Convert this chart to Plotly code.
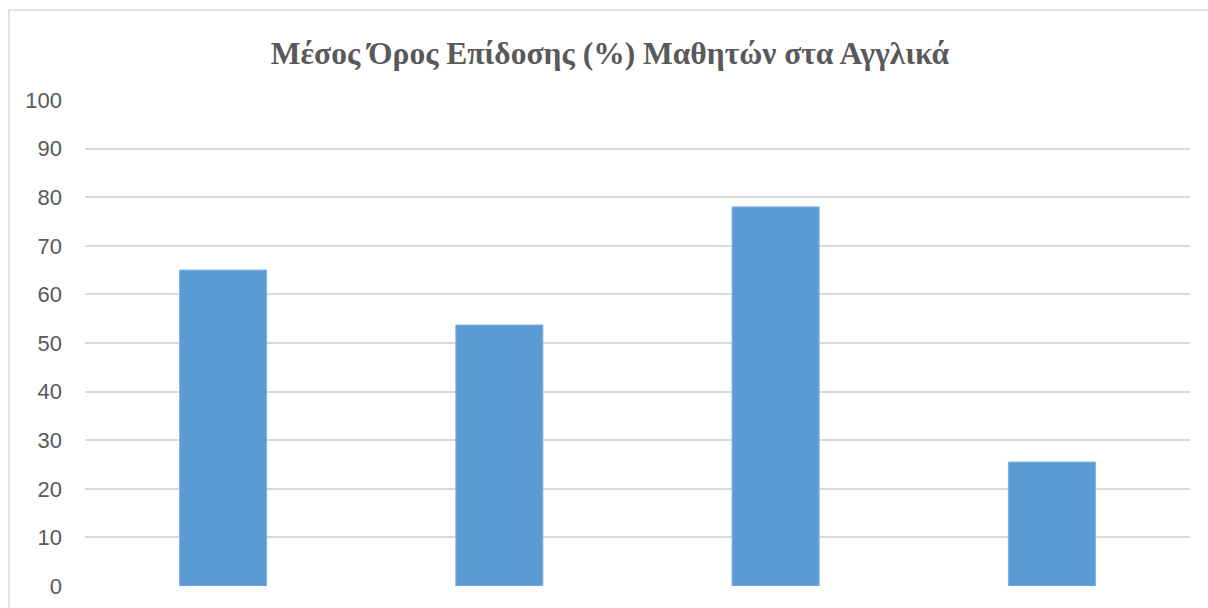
import plotly.graph_objects as go

# Average English score (%) per group
groups = ["Α", "Β", "Γ", "Δ"]
scores = [65, 53.7, 78, 25.5]
y_ticks = list(range(0, 101, 10))

title_text = "Μέσος Όρος Επίδοσης (%) Μαθητών στα Αγγλικά"

fig = go.Figure(
    go.Bar(
        x=groups,
        y=scores,
        marker=dict(color="#5B9BD5", line=dict(color="#7FB0DE", width=1)),
        width=0.315,
        hoverinfo="y",
    )
)

fig.update_layout(
    width=1208,
    height=608,
    margin=dict(l=85, r=18, t=100, b=22, autoexpand=False),
    paper_bgcolor="white",
    plot_bgcolor="white",
    showlegend=False,
    title=dict(
        text=title_text,
        x=610 / 1208,
        xref="container",
        xanchor="center",
        y=1 - 53 / 608,
        yanchor="middle",
        font=dict(family="Liberation Serif", size=31.5, color="#595959", weight="bold"),
    ),
    xaxis=dict(
        showticklabels=False,
        showgrid=False,
        zeroline=False,
        showline=False,
        ticks="",
        automargin=False,
    ),
    yaxis=dict(
        range=[0, 100],
        tickvals=y_ticks,
        showgrid=True,
        gridcolor="#D9D9D9",
        gridwidth=1.5,
        zeroline=False,
        showline=False,
        ticks="",
        automargin=False,
        ticklabelstandoff=22,
        tickfont=dict(family="Liberation Sans", size=22, color="#595959"),
    ),
    shapes=[
        # chart frame
        dict(
            type="rect",
            xref="paper",
            yref="paper",
            x0=(9 - 85) / 1105,
            x1=1.2,
            y0=-0.2,
            y1=(586 - 10) / 486,
            line=dict(color="#D9D9D9", width=1.5),
            fillcolor="rgba(0,0,0,0)",
            layer="below",
        )
    ],
)

fig.write_html("out.html")
